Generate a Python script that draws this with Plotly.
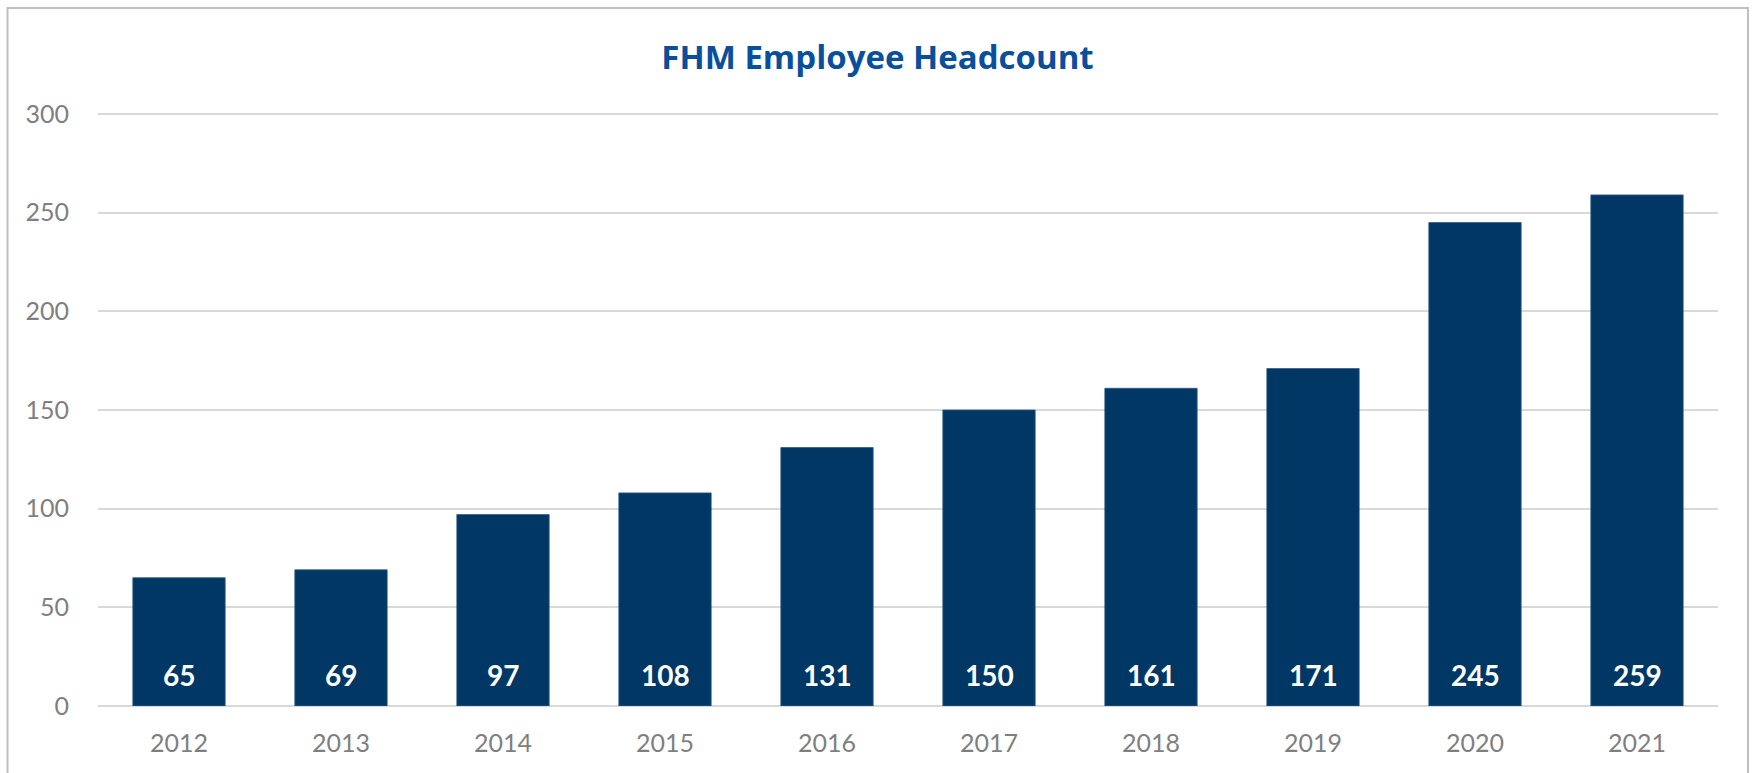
import plotly.graph_objects as go

years = ["2012", "2013", "2014", "2015", "2016", "2017", "2018", "2019", "2020", "2021"]
headcount = [65, 69, 97, 108, 131, 150, 161, 171, 245, 259]
y_ticks = [0, 50, 100, 150, 200, 250, 300]

W, H = 1755, 773
L, R, T, B = 98, 37, 110, 67
pw, ph = W - L - R, H - T - B
y_top = 300 * ph / 592.0  # so that the 300 gridline sits slightly below the plot edge

fig = go.Figure()
fig.add_trace(go.Bar(
    x=years, y=headcount,
    marker=dict(color="#003764", line=dict(color="#2E5A88", width=0.8)),
    hoverinfo="x+y",
))

for i, v in enumerate(headcount):
    fig.add_annotation(
        x=i, y=0, text=f"<b>{v}</b>", showarrow=False,
        yanchor="bottom", yshift=12,
        font=dict(family="Lato", size=28, color="white"),
    )

fig.add_shape(
    type="rect", xref="paper", yref="paper",
    x0=(7.5 - L) / pw, x1=(1748 - L) / pw,
    y0=-0.3, y1=(H - B - 8) / ph,
    line=dict(color="#BFBFBF", width=2), fillcolor="rgba(0,0,0,0)", layer="below",
)

fig.update_layout(
    width=W, height=H,
    margin=dict(l=L, r=R, t=T, b=B, pad=0),
    paper_bgcolor="white", plot_bgcolor="white",
    bargap=0.43,
    showlegend=False,
    title=dict(
        text="<b>FHM Employee Headcount</b>",
        font=dict(family="Open Sans", size=33, color="#0A4F9C"),
        x=0.5, xref="container", xanchor="center",
        y=1 - 57 / H, yref="container", yanchor="middle",
    ),
    font=dict(family="Lato"),
)

fig.update_yaxes(
    range=[0, y_top], tickvals=y_ticks,
    showgrid=True, gridcolor="#D9D9D9", gridwidth=1.5,
    zeroline=True, zerolinecolor="#D9D9D9", zerolinewidth=1.5,
    showline=False, ticks="",
    tickfont=dict(family="Lato", size=25, color="#7F7F7F"),
    ticklabelstandoff=28,
)
fig.update_xaxes(
    type="category", range=[-0.5, len(years) - 0.5],
    showgrid=False, showline=False, ticks="",
    tickfont=dict(family="Lato", size=25, color="#7F7F7F"),
    ticklabelstandoff=20,
)

fig.write_html(
    "out.html",
    config={"displayModeBar": False},
    post_script="document.body.style.margin='0';document.body.style.overflow='hidden';",
)
